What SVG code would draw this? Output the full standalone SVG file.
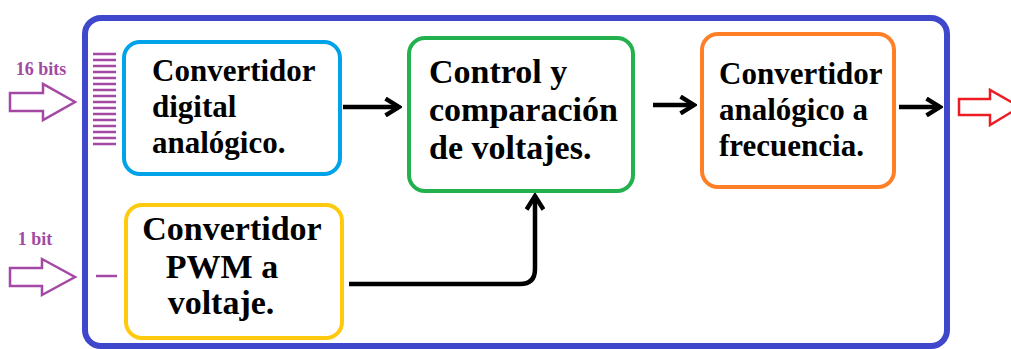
<svg xmlns="http://www.w3.org/2000/svg" width="1011" height="349" viewBox="0 0 1011 349">
<defs>
<style>
.box{fill:#fff;stroke-width:4}
.t{font-family:'Liberation Serif','DejaVu Serif',serif;font-weight:bold;fill:#000}
.lbl{font-family:'Liberation Serif','DejaVu Serif',serif;font-weight:bold;fill:#a349a4;font-size:18px}
.con{fill:none;stroke:#000;stroke-width:4.5}
.hollow{fill:#fff;stroke-width:2.5;stroke-linejoin:miter}
</style>
<marker id="ah" viewBox="0 0 12 12" refX="10" refY="6" markerWidth="4.5" markerHeight="4.5" markerUnits="strokeWidth" orient="auto">
<path d="M2,1 L10,6 L2,11" fill="none" stroke="#000" stroke-width="2.6"/>
</marker>
</defs>
<rect width="1011" height="349" fill="#fff"/>
<g id="frame">
<rect x="85" y="18" width="862" height="328" rx="16" fill="none" stroke="#3f48cc" stroke-width="6"/>
</g>
<g id="input16">
<text class="lbl" x="41" y="75" text-anchor="middle">16 bits</text>
<path class="hollow" stroke="#a349a4" d="M10,93 H43 V84 L75,102 L43,120 V111 H10 Z"/>
<g stroke="#a349a4" stroke-width="2.5">
<path d="M93,54 H116 M93,60 H116 M93,66 H116 M93,72 H116 M93,78 H116 M93,84 H116 M93,90 H116 M93,96 H116 M93,102 H116 M93,108 H116 M93,114 H116 M93,120 H116 M93,126 H116 M93,132 H116 M93,138 H116 M93,144 H116"/>
</g>
</g>
<g id="input1">
<text class="lbl" x="35" y="245" text-anchor="middle">1 bit</text>
<path class="hollow" stroke="#a349a4" d="M10,268 H42 V259 L75,277 L42,295 V286 H10 Z"/>
<path d="M96,276 H117" stroke="#a349a4" stroke-width="2.5"/>
</g>
<g id="output">
<path class="hollow" stroke="#ed1c24" d="M959,99 H990 V90 L1020,107 L990,125 V115 H959 Z"/>
</g>
<g id="dac">
<rect class="box" x="124" y="42" width="216" height="132" rx="16" stroke="#00a2e8"/>
<text class="t" font-size="31" x="152" y="81">Convertidor</text>
<text class="t" font-size="31" x="152" y="117">digital</text>
<text class="t" font-size="31" x="152" y="153">analógico.</text>
</g>
<g id="control">
<rect class="box" x="409" y="38" width="224" height="153" rx="16" stroke="#22b14c"/>
<text class="t" font-size="34" x="429" y="83">Control y</text>
<text class="t" font-size="34" x="429" y="121">comparación</text>
<text class="t" font-size="34" x="429" y="159">de voltajes.</text>
</g>
<g id="avf">
<rect class="box" x="702" y="34" width="192" height="153" rx="16" stroke="#ff7f27"/>
<text class="t" font-size="31" x="719" y="84">Convertidor</text>
<text class="t" font-size="31" x="719" y="120">analógico a</text>
<text class="t" font-size="31" x="719" y="156">frecuencia.</text>
</g>
<g id="pwm">
<rect class="box" x="126" y="205" width="216" height="133" rx="16" stroke="#ffc90e"/>
<text class="t" font-size="34" x="232" y="240" text-anchor="middle">Convertidor</text>
<text class="t" font-size="34" x="222" y="278" text-anchor="middle">PWM a</text>
<text class="t" font-size="34" x="221" y="314" text-anchor="middle">voltaje.</text>
</g>
<g id="connectors">
<path class="con" d="M343,107 H399" marker-end="url(#ah)"/>
<path class="con" d="M653,105 H694" marker-end="url(#ah)"/>
<path class="con" d="M899,107 H940" marker-end="url(#ah)"/>
<path class="con" d="M349,284 H520 Q535,284 535,269 V196" marker-end="url(#ah)"/>
</g>
</svg>
